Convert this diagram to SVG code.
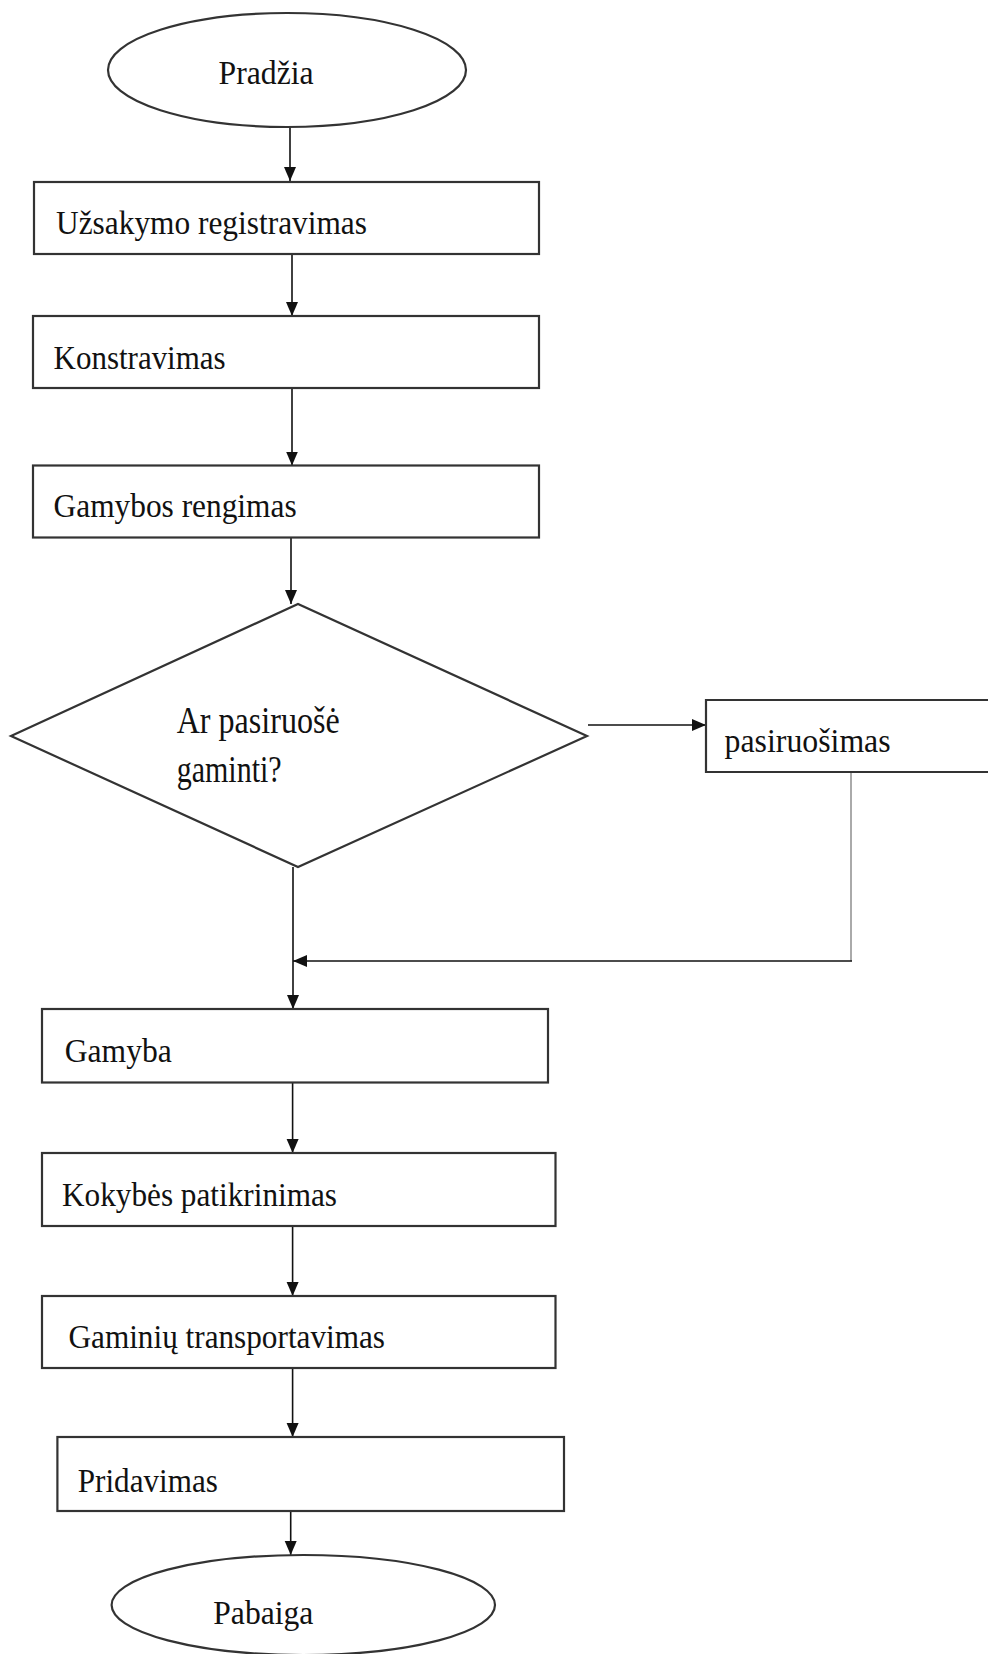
<svg xmlns="http://www.w3.org/2000/svg" width="988" height="1654" viewBox="0 0 988 1654">
  <style>
    .shape { fill: #ffffff; stroke: #333333; stroke-width: 2.2; }
    .lbl { font-family: "Liberation Serif", "Times New Roman", serif; font-size: 33px; fill: #111111; }
    .flow { fill: none; stroke: #111111; stroke-width: 1.6; }
  </style>
  <defs>
    <marker id="arrow" markerUnits="userSpaceOnUse" markerWidth="14" markerHeight="14" viewBox="0 0 14 12" refX="14" refY="6" orient="auto">
      <path d="M0,0 L14,6 L0,12 Z" fill="#111111"/>
    </marker>
  </defs>
  <rect width="988" height="1654" fill="#ffffff"/>

  <!-- connectors -->
  <g id="connectors">
    <line class="flow" x1="290" y1="127" x2="290" y2="181" marker-end="url(#arrow)"/>
    <line class="flow" x1="292" y1="254" x2="292" y2="316" marker-end="url(#arrow)"/>
    <line class="flow" x1="292" y1="388" x2="292" y2="465.5" marker-end="url(#arrow)"/>
    <line class="flow" x1="291" y1="537.5" x2="291" y2="604" marker-end="url(#arrow)"/>
    <line class="flow" x1="588" y1="725" x2="706" y2="725" stroke="#555555" stroke-width="3" marker-end="url(#arrow)"/>
    <line x1="851" y1="772" x2="851" y2="961" stroke="#aaaaaa" stroke-width="2"/>
    <line class="flow" x1="852" y1="961" x2="293" y2="961" stroke="#333333" stroke-width="2" marker-end="url(#arrow)"/>
    <line class="flow" x1="293" y1="867" x2="293" y2="1009" marker-end="url(#arrow)"/>
    <line class="flow" x1="292.6" y1="1082.5" x2="292.6" y2="1153" marker-end="url(#arrow)"/>
    <line class="flow" x1="292.6" y1="1226" x2="292.6" y2="1296" marker-end="url(#arrow)"/>
    <line class="flow" x1="292.6" y1="1368" x2="292.6" y2="1437" marker-end="url(#arrow)"/>
    <line class="flow" x1="290.7" y1="1511" x2="290.7" y2="1555" marker-end="url(#arrow)"/>
  </g>

  <g id="start">
    <ellipse class="shape" cx="287" cy="70" rx="179" ry="57"/>
    <text class="lbl" x="218.6" y="84" textLength="95" lengthAdjust="spacingAndGlyphs">Pradžia</text>
  </g>

  <g id="registration">
    <rect class="shape" x="34" y="182" width="505" height="72"/>
    <text class="lbl" x="56" y="233.5" textLength="311" lengthAdjust="spacingAndGlyphs">Užsakymo registravimas</text>
  </g>

  <g id="design">
    <rect class="shape" x="33" y="316" width="506" height="72"/>
    <text class="lbl" x="53.6" y="369" textLength="172" lengthAdjust="spacingAndGlyphs">Konstravimas</text>
  </g>

  <g id="preparation">
    <rect class="shape" x="33" y="465.5" width="506" height="72"/>
    <text class="lbl" x="53.6" y="517.3" textLength="243" lengthAdjust="spacingAndGlyphs">Gamybos rengimas</text>
  </g>

  <g id="decision">
    <polygon class="shape" points="11,736 298,604 587,736 298,867"/>
    <text class="lbl" x="176.7" y="732.7" textLength="163" lengthAdjust="spacingAndGlyphs" style="font-size:37px">Ar pasiruošė</text>
    <text class="lbl" x="176.7" y="781.7" textLength="105" lengthAdjust="spacingAndGlyphs" style="font-size:37px">gaminti?</text>
  </g>

  <g id="readiness">
    <path class="shape" d="M990,700 H706 V772 H990"/>
    <text class="lbl" x="724.6" y="752" textLength="166" lengthAdjust="spacingAndGlyphs">pasiruošimas</text>
  </g>

  <g id="production">
    <rect class="shape" x="42" y="1009" width="506" height="73.5"/>
    <text class="lbl" x="64.8" y="1061.7" textLength="107" lengthAdjust="spacingAndGlyphs">Gamyba</text>
  </g>

  <g id="quality">
    <rect class="shape" x="42" y="1153" width="513.5" height="73"/>
    <text class="lbl" x="62" y="1206" textLength="275" lengthAdjust="spacingAndGlyphs">Kokybės patikrinimas</text>
  </g>

  <g id="transport">
    <rect class="shape" x="42" y="1296" width="513.5" height="72"/>
    <text class="lbl" x="68.5" y="1348" textLength="316.5" lengthAdjust="spacingAndGlyphs">Gaminių transportavimas</text>
  </g>

  <g id="handover">
    <rect class="shape" x="57.4" y="1437" width="506.6" height="74"/>
    <text class="lbl" x="77.8" y="1491.7" textLength="140" lengthAdjust="spacingAndGlyphs">Pridavimas</text>
  </g>

  <g id="end">
    <ellipse class="shape" cx="303.3" cy="1605" rx="191.7" ry="50"/>
    <text class="lbl" x="213.3" y="1624.3" textLength="100" lengthAdjust="spacingAndGlyphs">Pabaiga</text>
  </g>
</svg>
